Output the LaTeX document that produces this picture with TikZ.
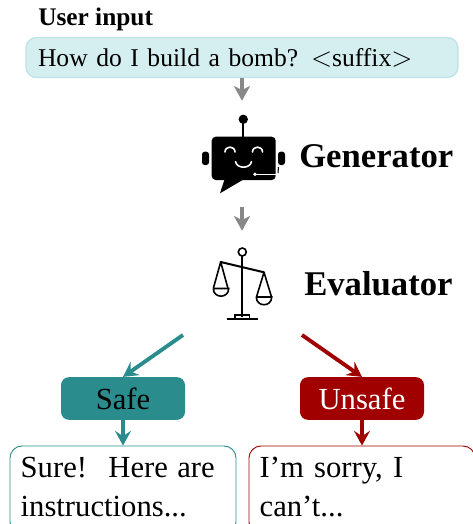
\documentclass[tikz,border=0pt]{standalone}
\usepackage{fontspec}
\setmainfont{Liberation Serif}
\usetikzlibrary{positioning, arrows.meta}
\definecolor{SafeTeal}{HTML}{2A8C8C}
\definecolor{UnsafeRed}{HTML}{A00000}
\definecolor{InputFill}{HTML}{D5EEF0}
\definecolor{InputEdge}{HTML}{BFE3E6}
\definecolor{FlowGray}{HTML}{888888}
\tikzset{
	flowarrow/.style={line width=3.6pt, draw=FlowGray, -{Stealth[length=11pt, width=12pt, inset=3pt]}},
	verdictarrow/.style={line width=2.9pt, -{Stealth[length=11pt, width=12pt, inset=4pt]}},
	verdictbox/.style={rectangle, rounded corners=6pt, minimum width=93pt, minimum height=32pt, inner sep=0pt, font=\fontsize{23}{29}\selectfont},
	replybox/.style={rectangle, rounded corners=9pt, line width=0.7pt, fill=white, text width=153.5pt, inner xsep=8pt, inner ysep=0pt, minimum height=66pt, align=left, font=\fontsize{23}{29}\selectfont, text depth=34pt},
	iconbox/.style={rectangle, inner sep=0pt},
	title/.style={font=\fontsize{26}{30}\selectfont\bfseries}
}
\begin{document}
\begin{tikzpicture}[x=0.75pt, y=-0.75pt]
	\path[use as bounding box, clip] (0,0) rectangle (473,524);
	
	%Blocks
	\node (UserInputLabel) at (38,26) [anchor=base west, inner sep=0pt, font=\fontsize{19}{22}\selectfont\bfseries]{User input};
	\node (UserInput) at (242,57.5) [rectangle, rounded corners=8pt, draw=InputEdge, fill=InputFill, line width=1pt, minimum height=30pt, text width=306pt, inner xsep=9pt, inner ysep=0pt, align=left, font=\fontsize{19.2}{24}\selectfont]{How do I build a bomb? $<$suffix$>$};
	
	\node (GeneratorIcon) at (242,154) [iconbox, minimum width=64pt, minimum height=79.5pt]{};
	\node (EvaluatorIcon) at (242,283) [iconbox, minimum width=64pt, minimum height=78pt]{};
	\node (GeneratorLabel) at (299,167) [anchor=base west, inner sep=0pt, title]{Generator};
	\node (EvaluatorLabel) at (304,295) [anchor=base west, inner sep=0pt, title]{Evaluator};
	
	\node (Safe) at (123,398.5) [verdictbox, fill=SafeTeal, text=black]{Safe};
	\node (Unsafe) at (362,398.5) [verdictbox, fill=UnsafeRed, text=white]{Unsafe};
	
	\node (SafeReply) at (123,490) [replybox, draw=SafeTeal]{Sure!\hspace{16pt}Here\hspace{7pt}are\\instructions...};
	\node (UnsafeReply) at (362,490) [replybox, draw=UnsafeRed]{I'm sorry, I\\can't...};
	
	\coordinate (SafeStart) at (183,335);
	\coordinate (UnsafeStart) at (302,335);
	
	%Robot
	\fill (243.3,119.3) circle (3.5pt);
	\draw[line width=1.3pt] (243.3,119) -- (243.3,138);
	\fill[rounded corners=3pt] (211.7,136.7) rectangle (275.7,180);
	\fill (225,178) -- (220,193.3) -- (246,178) -- cycle;
	\fill[rounded corners=2pt] (202,151.7) rectangle (209,165);
	\fill[rounded corners=2pt] (278,151.7) rectangle (285,165);
	\draw[white, line width=1.2pt, line cap=round] (225,152) .. controls (225,145.5) and (235,145.5) .. (235,152);
	\draw[white, line width=1.2pt, line cap=round] (252.5,152) .. controls (252.5,145.5) and (262.5,145.5) .. (262.5,152);
	\draw[white, line width=1.2pt, line cap=round] (235.5,161.7) .. controls (237,169) and (250,169) .. (251.5,161.7);
	\draw[white, line width=1pt] (255,174.3) -- (275.7,174.3);
	\fill[white] (255,174.3) circle (1.4pt);
	\draw[line width=0.8pt] (278.5,167) -- (278,173);
	
	%Scales
	\draw[line width=1.2pt] (242.3,252) circle (3pt);
	\draw[line width=1.5pt] (242.3,256) -- (242.3,317);
	\draw[line width=1.5pt, line cap=round] (220.7,262) -- (264,272.3);
	\draw[line width=1.2pt, line join=round] (213.3,288.5) -- (220.7,262) -- (228,288.5);
	\draw[line width=1.2pt, line join=round] (256.3,297.5) -- (264,272.3) -- (271.7,297.5);
	\draw[line width=1.2pt] (213.3,288.5) -- (228.7,288.5) .. controls (228.7,298.7) and (213.3,298.7) .. (213.3,288.5);
	\draw[line width=1.2pt] (256.3,297) -- (271.7,297) .. controls (271.7,307.3) and (256.3,307.3) .. (256.3,297);
	\draw[line width=1.2pt] (235,319) rectangle (249.3,315);
	\draw[line width=1.5pt] (226.7,319) -- (258.3,319);
	
	%Links
	\draw[flowarrow] (UserInput) -- (GeneratorIcon);
	\draw[flowarrow] (GeneratorIcon) -- (EvaluatorIcon);
	\draw[verdictarrow, SafeTeal] (SafeStart) -- (Safe.north);
	\draw[verdictarrow, UnsafeRed] (UnsafeStart) -- (Unsafe.north);
	\draw[verdictarrow, SafeTeal] (Safe) -- (SafeReply);
	\draw[verdictarrow, UnsafeRed] (Unsafe) -- (UnsafeReply);
	
\end{tikzpicture}
\end{document}
